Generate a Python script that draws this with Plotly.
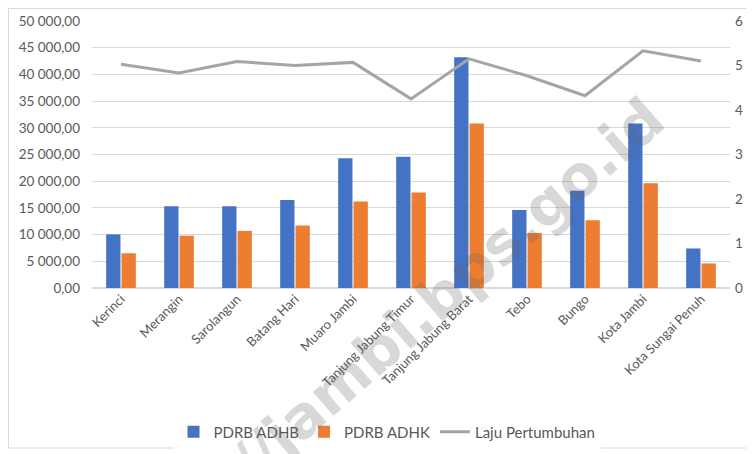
import plotly.graph_objects as go

categories = ["Kerinci", "Merangin", "Sarolangun", "Batang Hari", "Muaro Jambi",
              "Tanjung Jabung Timur", "Tanjung Jabung Barat", "Tebo", "Bungo",
              "Kota Jambi", "Kota Sungai Penuh"]
pdrb_adhb = [10050, 15300, 15300, 16500, 24300, 24600, 43200, 14600, 18200, 30800, 7400]
pdrb_adhk = [6500, 9800, 10700, 11700, 16200, 17900, 30800, 10300, 12700, 19600, 4600]
laju = [5.03, 4.83, 5.09, 5.00, 5.07, 4.25, 5.15, 4.77, 4.32, 5.33, 5.10]

font_fam = "Lato, 'Open Sans', sans-serif"
txt = "#595959"

fig = go.Figure()
fig.add_trace(go.Bar(x=categories, y=pdrb_adhb, name="PDRB ADHB", marker_color="#4472c4",
                     marker_line_width=0))
fig.add_trace(go.Bar(x=categories, y=pdrb_adhk, name="PDRB ADHK", marker_color="#ed7d31",
                     marker_line_width=0))
fig.add_trace(go.Scatter(x=categories, y=laju, name="Laju Pertumbuhan", mode="lines",
                         line=dict(color="#a5a5a5", width=3), yaxis="y2"))

# page body has an 8px margin, so the figure is drawn 8px in from the window corner
W, H = 746, 446
L, T = 84, 13
PR, PB = 722, 280
R, B = W - PR, H - PB
pw, ph = PR - L, PB - T

def px(x):
    return (x - 8 - L) / pw

def py(y):
    return (PB - (y - 8)) / ph

fig.update_layout(
    width=W, height=H,
    margin=dict(l=L, r=R, t=T, b=B, autoexpand=False),
    paper_bgcolor="white", plot_bgcolor="white",
    separators=", ",
    barmode="group", bargap=0.47, bargroupgap=0.07,
    font=dict(family=font_fam, size=13, color=txt),
    xaxis=dict(tickangle=-45, tickfont=dict(size=13, color=txt), showgrid=False,
               showline=False, ticks=""),
    yaxis=dict(range=[0, 50000], dtick=5000, tickformat=",.2f", gridcolor="#d9d9d9",
               zeroline=True, zerolinecolor="#d9d9d9", showline=False,
               tickfont=dict(size=13.5, color=txt), ticklabelstandoff=11),
    yaxis2=dict(range=[0, 6], dtick=1, overlaying="y", side="right", showgrid=False,
                zeroline=False, tickfont=dict(size=13.5, color=txt), ticklabelstandoff=4),
    legend=dict(orientation="h", x=px(387), xanchor="center", y=py(432), yanchor="middle",
                font=dict(size=15, color=txt), itemwidth=30, tracegroupgap=0),
    shapes=[dict(type="rect", xref="paper", yref="paper",
                 x0=px(8.5), x1=px(747), y0=py(448), y1=py(8.5),
                 line=dict(color="#d9d9d9", width=1), layer="below")],
    annotations=[dict(text="<b>//jambi.bps.go.id</b>", xref="paper", yref="paper",
                      x=px(448), y=py(290), xanchor="center", yanchor="middle",
                      showarrow=False, textangle=-41,
                      font=dict(family="'DejaVu Sans', sans-serif", size=58,
                                color="rgba(100,100,100,0.25)"),
                      )],
)

fig.write_html("out.html")
